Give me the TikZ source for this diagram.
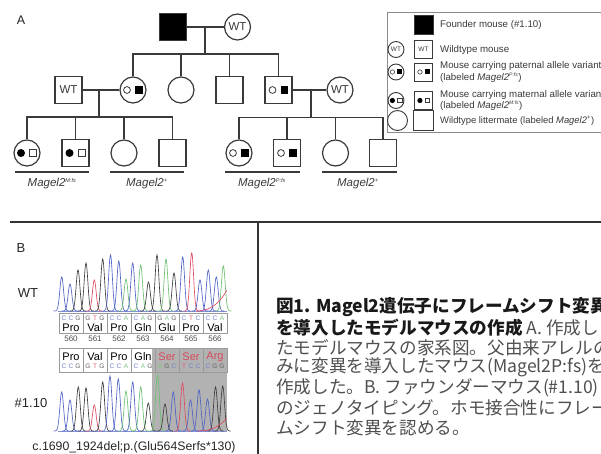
\documentclass[tikz,border=0pt]{standalone}
\usepackage{fontspec}
\setmainfont{Liberation Sans}
\newfontfamily\jpfont{Noto Sans CJK JP}
\definecolor{pedc}{HTML}{3A3A3A}
\definecolor{lgc}{HTML}{8A8A8A}
\definecolor{cellc}{HTML}{9A9A9A}
\definecolor{shadec}{HTML}{B2B2B2}
\definecolor{pkA}{HTML}{6CC070}
\definecolor{pkC}{HTML}{4F63C4}
\definecolor{pkG}{HTML}{3C3C3C}
\definecolor{pkT}{HTML}{E04A60}
\definecolor{baseA}{HTML}{7CC880}
\definecolor{baseC}{HTML}{7080C8}
\definecolor{baseG}{HTML}{606060}
\definecolor{baseT}{HTML}{E06070}
\definecolor{redaa}{HTML}{D84A5C}
\definecolor{jpgray}{HTML}{505050}
\begin{document}
\begin{tikzpicture}[x=1pt,y=-1pt,
  ln/.style={draw=pedc, line width=1.2pt},
  sq/.style={draw=pedc, line width=1.2pt, rectangle, minimum size=27pt, inner sep=0pt, fill=white},
  ci/.style={draw=pedc, line width=1.2pt, circle, minimum size=26pt, inner sep=0pt, fill=white},
  wt/.style={font=\fontsize{11.5}{12}\selectfont, text=pedc},
  pat/.style={path picture={
    \draw[pedc, line width=0.8pt] ([xshift=-6pt]path picture bounding box.center) circle[radius=3.4pt];
    \fill[black] ([xshift=6pt]path picture bounding box.center) +(-3.8pt,-3.8pt) rectangle +(3.8pt,3.8pt);}},
  mat/.style={path picture={
    \fill[black] ([xshift=-6pt]path picture bounding box.center) circle[radius=4pt];
    \draw[pedc, line width=0.8pt] ([xshift=6pt]path picture bounding box.center) +(-3.4pt,-3.4pt) rectangle +(3.4pt,3.4pt);}},
  lpat/.style={path picture={
    \draw[pedc, line width=0.6pt] ([xshift=-3.6pt]path picture bounding box.center) circle[radius=2.2pt];
    \fill[black] ([xshift=3.6pt]path picture bounding box.center) +(-2.5pt,-2.5pt) rectangle +(2.5pt,2.5pt);}},
  lmat/.style={path picture={
    \fill[black] ([xshift=-3.6pt]path picture bounding box.center) circle[radius=2.6pt];
    \draw[pedc, line width=0.6pt] ([xshift=3.6pt]path picture bounding box.center) +(-2.2pt,-2.2pt) rectangle +(2.2pt,2.2pt);}},
  lsq/.style={draw=pedc, line width=0.9pt, rectangle, minimum size=18pt, inner sep=0pt},
  lci/.style={draw=pedc, line width=0.9pt, circle, minimum size=16pt, inner sep=0pt},
  lgtext/.style={anchor=west, font=\fontsize{9.7}{11}\selectfont, text=pedc, inner sep=0pt},
  mlabel/.style={font=\fontsize{11.5}{13}\selectfont\itshape, text=pedc},
  uline/.style={draw=pedc, line width=2.6pt},
  cell/.style={draw=cellc, line width=0.6pt},
  aa/.style={font=\fontsize{11}{12}\selectfont, inner sep=0pt},
  basetxt/.style={font=\fontsize{6.5}{7}\selectfont, inner sep=0pt},
  num/.style={font=\fontsize{8}{9}\selectfont, text=black!70, inner sep=0pt},
  blab/.style={font=\fontsize{13}{14}\selectfont, text=black!85},
  jp/.style={anchor=west, inner sep=0pt, font=\jpfont\fontsize{17.6}{20}\selectfont, text=jpgray}
]
\useasboundingbox (0,0) rectangle (601,454);
\fill[white] (0,0) rectangle (601,454);

% ---------------- Panel A ----------------
\node[blab, font=\fontsize{12.5}{13}\selectfont] (labA) at (21,20) {A};

% generation 1
\node[sq, fill=black] (F) at (173,27) {};
\node[ci] (M) at (237.5,27) {};
\node[wt] at (M) {WT};
% generation 2
\node[sq] (W1) at (68.5,90) {};
\node[wt] at (W1) {WT};
\node[ci, pat] (g2b) at (133,90) {};
\node[ci] (g2c) at (181,90) {};
\node[sq] (g2d) at (229.5,90) {};
\node[sq, pat] (g2e) at (278.5,90) {};
\node[ci] (W2) at (340,90) {};
\node[wt] at (W2) {WT};
% generation 3 left
\node[ci, mat] (g3a) at (27,153) {};
\node[sq, mat] (g3b) at (75.5,153) {};
\node[ci] (g3c) at (124,153) {};
\node[sq] (g3d) at (172.5,153) {};
% generation 3 right
\node[ci, pat] (g3e) at (239,153) {};
\node[sq, pat] (g3f) at (287,153) {};
\node[ci] (g3g) at (335.5,153) {};
\node[sq] (g3h) at (383,153) {};

% connectors
\coordinate (j1) at (205,27);
\coordinate (s1) at (205,54);
\draw[ln] (F) -- (M);
\draw[ln] (j1) -- (s1);
\draw[ln] (g2b.north) |- (s1) -| (g2e.north);
\draw[ln] (g2c.north) -- (g2c.north |- s1);
\draw[ln] (g2d.north) -- (g2d.north |- s1);

\coordinate (j2) at (99,90);
\coordinate (s2) at (99,117);
\draw[ln] (W1) -- (g2b);
\draw[ln] (j2) -- (s2);
\draw[ln] (g3a.north) |- (s2) -| (g3d.north);
\draw[ln] (g3b.north) -- (g3b.north |- s2);
\draw[ln] (g3c.north) -- (g3c.north |- s2);

\coordinate (j3) at (311,90);
\coordinate (s3) at (311,117.5);
\draw[ln] (g2e) -- (W2);
\draw[ln] (j3) -- (s3);
\draw[ln] (g3e.north) |- (s3) -| (g3h.north);
\draw[ln] (g3f.north) -- (g3f.north |- s3);
\draw[ln] (g3g.north) -- (g3g.north |- s3);

% underlines and labels
\coordinate (u1a) at (15,172); \coordinate (u1b) at (89,172);
\coordinate (u2a) at (110,172); \coordinate (u2b) at (184,172);
\coordinate (u3a) at (225,172); \coordinate (u3b) at (300,172);
\coordinate (u4a) at (322,172); \coordinate (u4b) at (397,172);
\draw[uline] (u1a) -- (u1b);
\draw[uline] (u2a) -- (u2b);
\draw[uline] (u3a) -- (u3b);
\draw[uline] (u4a) -- (u4b);
\node[mlabel] (lab1) at (52,184) {Magel2\textsuperscript{\fontsize{5.5}{6}\selectfont M:fs}};
\node[mlabel] (lab2) at (147,184) {Magel2\textsuperscript{\fontsize{6}{6}\selectfont +}};
\node[mlabel] (lab3) at (262,184) {Magel2\textsuperscript{\fontsize{5.5}{6}\selectfont P:fs}};
\node[mlabel] (lab4) at (358,184) {Magel2\textsuperscript{\fontsize{6}{6}\selectfont +}};

% legend
\draw[draw=lgc, line width=1pt, fill=white] (387.5,12.5) rectangle (612,133);
\node[lsq, fill=black, minimum size=19pt] (L1s) at (423.5,25) {};
\node[lgtext] (L1t) at (440,24.5) {Founder mouse (\#1.10)};
\node[lci] (L2c) at (396,49.5) {};
\node[font=\fontsize{6.5}{7}\selectfont, text=pedc] at (L2c) {WT};
\node[lsq] (L2s) at (423.5,49.5) {};
\node[font=\fontsize{6.5}{7}\selectfont, text=pedc] at (L2s) {WT};
\node[lgtext] (L2t) at (440,49.5) {Wildtype mouse};
\node[lci, lpat] (L3c) at (396,72) {};
\node[lsq, lpat] (L3s) at (423.5,72) {};
\node[lgtext] (L3t) at (440,66) {Mouse carrying paternal allele variant};
\node[lgtext] (L3u) at (440,77.5) {(labeled \textit{Magel2}\textsuperscript{\fontsize{5}{5}\selectfont\itshape P:fs})};
\node[lci, lmat] (L4c) at (396,100.5) {};
\node[lsq, lmat] (L4s) at (423.5,100.5) {};
\node[lgtext] (L4t) at (440,94.5) {Mouse carrying maternal allele variant};
\node[lgtext] (L4u) at (440,105.5) {(labeled \textit{Magel2}\textsuperscript{\fontsize{5}{5}\selectfont\itshape M:fs})};
\node[lci, minimum size=20pt] (L5c) at (397.5,120.5) {};
\node[lsq, minimum size=20pt] (L5s) at (423.5,120.5) {};
\node[lgtext, font=\fontsize{9.4}{11}\selectfont] (L5t) at (440,121) {Wildtype littermate (labeled \textit{Magel2}\textsuperscript{\fontsize{6}{6}\selectfont +})};

% ---------------- dividers ----------------
\coordinate (hA) at (10,222); \coordinate (hB) at (601,222);
\coordinate (vA) at (258,222); \coordinate (vB) at (258,454);
\draw[draw=black!80, line width=1.4pt] (hA) -- (hB);
\draw[draw=black!80, line width=1.4pt] (vA) -- (vB);

% ---------------- Panel B ----------------
\node[blab] (labB) at (21,248) {B};
\node[blab] (labWT) at (28,293) {WT};
\node[blab] (labM) at (31,403) {\#1.10};

% shaded region of mutant
\fill[shadec] (152,348) rectangle (227,431);

% WT codon row
\foreach \i/\am/\bA/\bB/\bC in {0/Pro/C/C/G, 1/Val/G/T/G, 2/Pro/C/C/A, 3/Gln/C/A/G, 4/Glu/G/A/G, 5/Pro/C/T/C, 6/Val/C/C/A} {
  \pgfmathsetmacro\xl{59+24*\i}
  \pgfmathsetmacro\xc{\xl+12}
  \pgfmathtruncatemacro\nn{560+\i}
  \draw[cell] (\xl,313) rectangle ++(24,20);
  \node[aa] at (\xc,327.5) {\am};
  \node[basetxt, text=base\bA] at (\xl+5,318) {\bA};
  \node[basetxt, text=base\bB] at (\xl+12,318) {\bB};
  \node[basetxt, text=base\bC] at (\xl+19,318) {\bC};
  \node[num] at (\xc,338.5) {\nn};
}
% mutant codon row
\foreach \i/\am/\ac/\bA/\bB/\bC in {0/Pro/black/C/C/G, 1/Val/black/G/T/G, 2/Pro/black/C/C/A, 3/Gln/black/C/A/G, 4/Ser/redaa/A/G/C, 5/Ser/redaa/T/C/C, 6/Arg/redaa/C/G/G} {
  \pgfmathsetmacro\xl{59+24*\i}
  \pgfmathsetmacro\xc{\xl+12}
  \draw[cell] (\xl,348) rectangle ++(24,24);
  \node[aa, text=\ac] at (\xc,356.5) {\am};
  \node[basetxt, text=base\bA] at (\xl+5,366.5) {\bA};
  \node[basetxt, text=base\bB] at (\xl+12,366.5) {\bB};
  \node[basetxt, text=base\bC] at (\xl+19,366.5) {\bC};
}

% WT chromatogram
\draw[pkC!70, line width=0.5pt] (58,311) -- (227,311);
\foreach \qx/\qh/\qc in {61.7/34/pkC, 70/27/pkC, 78/41/pkG, 86/48/pkG, 94.3/31/pkT, 102.7/52/pkG, 110.5/56/pkC, 118.8/50/pkC, 126/32/pkA, 132.7/48/pkC, 140.7/46/pkA, 148.5/29/pkG, 157/56/pkG, 166/52/pkA, 174/38/pkG, 182.7/54/pkC, 191.7/58/pkT, 200/31/pkC, 208.3/41/pkC, 216.3/34/pkC, 223.3/45/pkA} {
  \pgfmathsetmacro\pa{\qx-8}
  \pgfmathsetmacro\pb{\qx+8}
  \draw[\qc, line width=0.65pt] plot[domain=\pa:\pb, samples=33, smooth] (\x, {311-\qh*exp(-((\x-\qx)*(\x-\qx))/7)});
}
\draw[pkT, line width=0.65pt] (196,311) .. controls (212,311) and (220,302) .. (227,290);

% mutant chromatogram
\draw[pkC!70, line width=0.5pt] (58,431) -- (227,431);
\foreach \qx/\qh/\qc in {61.7/39/pkC, 70/31/pkC, 78.3/44/pkG, 86/43/pkG, 94.3/26/pkT, 102.7/49/pkG, 110/55/pkC, 118.3/52/pkC, 126/40/pkA, 132.7/49/pkC, 140.7/44/pkA, 148.3/28/pkG, 157.5/56/pkA, 165/27/pkG, 173.3/39/pkC, 182.5/48/pkT, 190.5/31/pkC, 199/41/pkC, 207.5/32/pkC, 215.5/44/pkG, 222.7/45/pkG} {
  \pgfmathsetmacro\pa{\qx-8}
  \pgfmathsetmacro\pb{\qx+8}
  \draw[\qc, line width=0.65pt] plot[domain=\pa:\pb, samples=33, smooth] (\x, {431-\qh*exp(-((\x-\qx)*(\x-\qx))/7)});
}
\draw[pkT, line width=0.65pt] (198,431) .. controls (212,431) and (220,426) .. (227,418);

\node[font=\fontsize{12.3}{13}\selectfont, text=black!85] (cap) at (134,447) {c.1690\_1924del;p.(Glu564Serfs*130)};

% ---------------- Japanese caption ----------------
\node[jp, text=black!90] (t1) at (276,307.5) {\bfseries 図1. Magel2遺伝子にフレームシフト変異};
\node[jp] (t2) at (276,327.5) {{\bfseries\color{black!90}を導入したモデルマウスの作成} A. 作成し};
\node[jp] (t3) at (276,347.5) {たモデルマウスの家系図。父由来アレルの};
\node[jp] (t4) at (276,367.5) {みに変異を導入したマウス(Magel2P:fs)を};
\node[jp] (t5) at (276,387.5) {作成した。B. ファウンダーマウス(\#1.10)};
\node[jp] (t6) at (276,407.5) {のジェノタイピング。ホモ接合性にフレー};
\node[jp] (t7) at (276,427.5) {ムシフト変異を認める。};
\end{tikzpicture}
\end{document}
